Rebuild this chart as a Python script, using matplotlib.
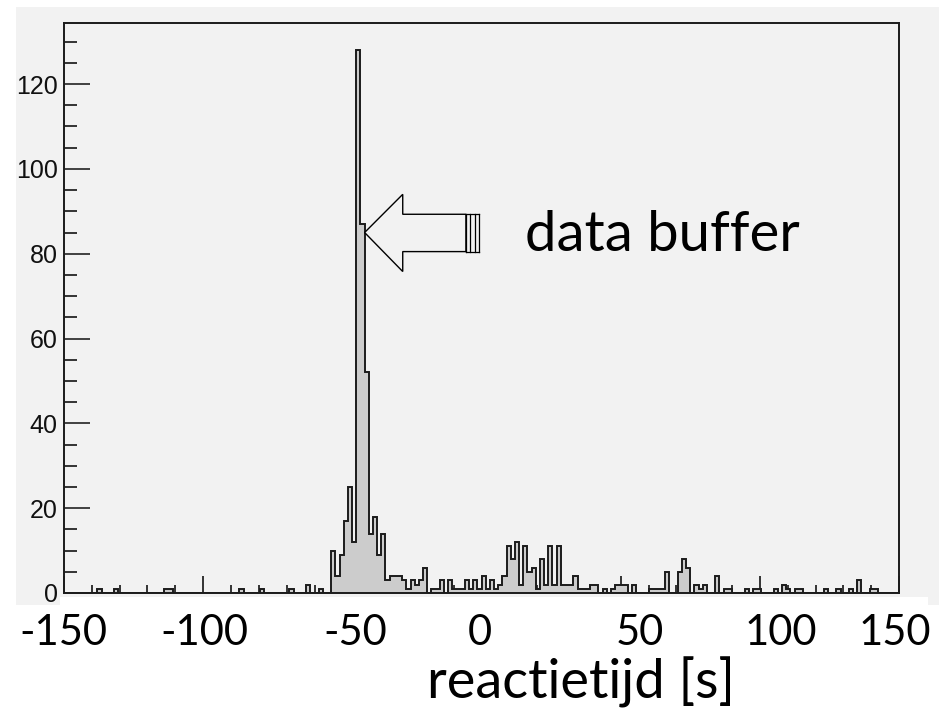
import numpy as np
import matplotlib
matplotlib.use('Agg')
import matplotlib.pyplot as plt
from matplotlib.patches import Rectangle, Polygon

# histogram: 200 bins of 1.5 s from -150 to 150 (counts)
bin_lo, bin_hi, n_bins = -150.0, 150.0, 200
counts = [0] * n_bins
nonzero = {
    8: 1, 12: 1, 24: 1, 25: 1, 42: 1, 47: 1, 54: 1, 58: 2, 61: 1,
    64: 10, 65: 4, 66: 9, 67: 17, 68: 25, 69: 12, 70: 128, 71: 87, 72: 52,
    73: 14, 74: 18, 75: 9, 76: 14, 77: 3, 78: 4, 79: 4, 80: 4, 81: 3, 82: 1,
    83: 3, 84: 2, 85: 3, 86: 6, 88: 1, 89: 1, 90: 3, 92: 3, 93: 1, 94: 1,
    95: 1, 96: 3, 97: 1, 98: 3, 99: 1, 100: 4, 101: 1, 102: 3, 103: 1,
    104: 2, 105: 4, 106: 11, 107: 8, 108: 12, 109: 2, 110: 11, 111: 5,
    112: 6, 113: 1, 114: 8, 115: 2, 116: 11, 117: 2, 118: 11, 119: 2,
    120: 2, 121: 2, 122: 4, 123: 1, 124: 1, 125: 1, 126: 2, 127: 2,
    129: 1, 131: 1, 132: 2, 133: 2, 134: 2, 136: 2, 140: 1, 141: 1,
    142: 1, 143: 1, 144: 5, 147: 5, 148: 8, 149: 6, 151: 2, 152: 1,
    153: 2, 156: 4, 158: 1, 159: 1, 163: 1, 165: 1, 166: 1, 170: 1,
    172: 2, 173: 1, 175: 1, 176: 1, 182: 1, 185: 1, 188: 1, 190: 3,
    193: 1, 194: 1,
}
for k, v in nonzero.items():
    counts[k] = v

# slide text (labels typed on the slide below the ROOT canvas)
x_tick_labels = ['-150', '-100', '-50', '0', '50', '100', '150']
x_label_px = [63, 204, 355, 480, 640, 781, 895]
x_title = 'reactietijd [s]'
note = 'data buffer'

W, H = 939, 711


def fx(px):
    return px / W


def fy(py):
    return 1 - py / H


fig = plt.figure(figsize=(W / 100, H / 100), dpi=100)
fig.patch.set_facecolor('white')

# grey ROOT canvas, then the white text box of the slide over its bottom edge
fig.add_artist(Rectangle((fx(16), fy(605)), fx(923), 598 / H,
                         transform=fig.transFigure, facecolor='#f2f2f2',
                         edgecolor='none', zorder=0))
fig.add_artist(Rectangle((fx(60), 0), fx(868), (H - 597) / H,
                         transform=fig.transFigure, facecolor='white',
                         edgecolor='none', zorder=0.5))

ax = fig.add_axes([fx(64), fy(593), fx(835), 570 / H])
ax.set_facecolor('#f2f2f2')
ax.set_zorder(1)

edges = np.linspace(bin_lo, bin_hi, n_bins + 1)
ax.stairs(counts, edges, fill=True, color='#cccccc', zorder=2)
ax.stairs(counts, edges, color='#1c1c1c', linewidth=1.4, zorder=3)

ax.set_xlim(bin_lo, bin_hi)
ax.set_ylim(0, max(counts) * 1.05)

ax.set_xticks(np.arange(-150, 151, 50))
ax.set_xticks(np.arange(-150, 151, 10), minor=True)
ax.set_yticks(np.arange(0, 121, 20))
ax.set_yticks(np.arange(0, 131, 5), minor=True)
ax.tick_params(axis='x', which='major', direction='in', length=12.2, width=1.1,
               labelbottom=False)
ax.tick_params(axis='x', which='minor', direction='in', length=5.8, width=1.1)
ax.tick_params(axis='y', which='major', direction='in', length=18.7, width=1.1,
               pad=4.5, colors='#111111')
ax.tick_params(axis='y', which='minor', direction='in', length=9.4, width=1.1)
ax.set_yticklabels([str(v) for v in range(0, 121, 20)],
                   fontfamily='Liberation Sans', fontsize=18)
for sp in ax.spines.values():
    sp.set_linewidth(1.4)
    sp.set_color('#1c1c1c')

# arrow pointing at the peak (data units)
tip = (-42.0, 85.0)
head_x, head_top, head_bot = -28.3, 94.0, 75.8
shaft_top, shaft_bot, shaft_end, tail_end = 89.3, 80.5, -5.6, -0.9
arrow = Polygon([tip, (head_x, head_top), (head_x, shaft_top),
                 (shaft_end, shaft_top), (shaft_end, shaft_bot),
                 (head_x, shaft_bot), (head_x, head_bot)],
                closed=True, facecolor='#f2f2f2', edgecolor='black',
                linewidth=1.0, zorder=4)
ax.add_patch(arrow)
for xs in np.linspace(shaft_end, tail_end, 4):
    ax.plot([xs, xs], [shaft_bot, shaft_top], color='black', lw=0.9, zorder=4)
ax.plot([shaft_end, tail_end], [shaft_top, shaft_top], color='black', lw=0.9, zorder=4)
ax.plot([shaft_end, tail_end], [shaft_bot, shaft_bot], color='black', lw=0.9, zorder=4)

ax.text(15.6, 80.7, note, fontsize=40.5, fontfamily='Lato', va='baseline',
        ha='left', color='black', zorder=5)

# slide-level tick labels and axis title
for xp, lab in zip(x_label_px, x_tick_labels):
    fig.text(fx(xp), fy(645), lab, fontsize=30, fontfamily='Lato',
             ha='center', va='baseline')
fig.text(fx(581), fy(698), x_title, fontsize=39, fontfamily='Lato',
         ha='center', va='baseline')

fig.savefig('out.png', dpi=100, facecolor='white')
